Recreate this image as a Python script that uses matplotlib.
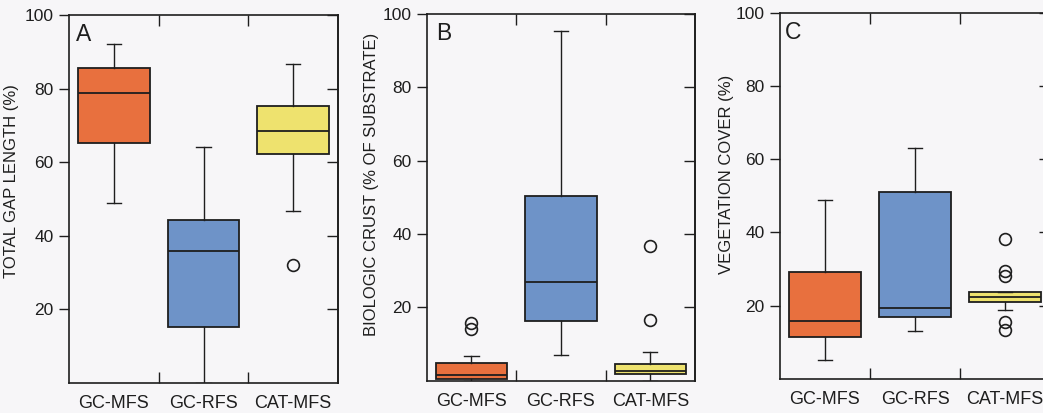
import matplotlib
matplotlib.use("Agg")
import matplotlib.pyplot as plt

plt.rcParams['font.family'] = ['Liberation Sans', 'DejaVu Sans']

categories = ['GC-MFS', 'GC-RFS', 'CAT-MFS']
yticks = [20, 40, 60, 80, 100]

# Panel A: total gap length (%)
gap_whislo = [49.0, 0.0, 46.8]
gap_q1 = [65.1, 15.3, 62.2]
gap_med = [78.7, 35.9, 68.5]
gap_q3 = [85.5, 44.3, 75.4]
gap_whishi = [92.2, 64.1, 86.8]
gap_fliers = [[], [], [32.1]]

# Panel B: biologic crust (% of substrate)
crust_whislo = [0.0, 7.0, 0.0]
crust_q1 = [0.3, 16.2, 1.7]
crust_med = [1.6, 26.8, 2.5]
crust_q3 = [4.9, 50.4, 4.6]
crust_whishi = [6.6, 95.4, 7.9]
crust_fliers = [[14.0, 15.6], [], [16.5, 36.8]]

# Panel C: vegetation cover (%)
veg_whislo = [5.2, 13.1, 18.8]
veg_q1 = [11.6, 16.9, 20.9]
veg_med = [15.7, 19.3, 22.4]
veg_q3 = [29.3, 51.0, 23.8]
veg_whishi = [48.9, 63.1, 23.8]
veg_fliers = [[], [], [13.4, 15.5, 28.2, 29.5, 38.3]]

box_colors = ['#e8703e', '#6e93c8', '#eee26e']
bg = '#f7f6f8'
ink = '#1e1e1e'

panels = [
    dict(letter='A', ylabel='TOTAL GAP LENGTH (%)',
         data=(gap_whislo, gap_q1, gap_med, gap_q3, gap_whishi, gap_fliers),
         rect=[69/1043, 30/413, 269/1043, 368/413], lab_x=19, lab_y=181,
         letter_dx=7),
    dict(letter='B', ylabel='BIOLOGIC CRUST (% OF SUBSTRATE)',
         data=(crust_whislo, crust_q1, crust_med, crust_q3, crust_whishi, crust_fliers),
         rect=[426.7/1043, 32.5/413, 268.3/1043, 366.5/413], lab_x=379, lab_y=184,
         letter_dx=9),
    dict(letter='C', ylabel='VEGETATION COVER (%)',
         data=(veg_whislo, veg_q1, veg_med, veg_q3, veg_whishi, veg_fliers),
         rect=[780/1043, 34/413, 270/1043, 366.3/413], lab_x=734, lab_y=174,
         letter_dx=5),
]

fig = plt.figure(figsize=(10.43, 4.13), dpi=100, facecolor=bg)

for p in panels:
    ax = fig.add_axes(p['rect'])
    ax.set_facecolor(bg)
    wlo, q1, med, q3, whi, fl = p['data']
    stats = []
    for i, c in enumerate(categories):
        stats.append(dict(label=c, whislo=wlo[i], q1=q1[i], med=med[i],
                          q3=q3[i], whishi=whi[i], fliers=fl[i]))
    bp = ax.bxp(stats, positions=[1, 2, 3], widths=0.8, patch_artist=True,
                capwidths=0.16, showfliers=True,
                boxprops=dict(edgecolor=ink, linewidth=1.3),
                medianprops=dict(color=ink, linewidth=1.3),
                whiskerprops=dict(color=ink, linewidth=1.0),
                capprops=dict(color=ink, linewidth=1.0),
                flierprops=dict(marker='o', markersize=8.5, markerfacecolor='none',
                                markeredgecolor=ink, markeredgewidth=1.2))
    for patch, col in zip(bp['boxes'], box_colors):
        patch.set_facecolor(col)

    ax.set_xlim(0.5, 3.5)
    ax.set_ylim(0, 100)
    ax.set_yticks(yticks)
    ax.set_xticks([1, 2, 3], categories)
    ax.set_xticks([1.5, 2.5], minor=True)
    ax.tick_params(axis='x', which='major', length=0, pad=9, labelsize=13,
                   labelcolor=ink)
    ax.tick_params(axis='x', which='minor', direction='in', length=8, width=1.0,
                   top=True, bottom=True, color=ink)
    ax.tick_params(axis='y', which='major', direction='out', length=7, width=1.0,
                   pad=4, labelsize=12.5, labelcolor=ink, color=ink)
    sec = ax.secondary_yaxis('right')
    sec.set_yticks(yticks)
    sec.tick_params(axis='y', direction='in', length=8, width=1.0,
                    labelright=False, color=ink)
    sec.spines['right'].set_linewidth(1.2)
    sec.spines['right'].set_color(ink)
    for s in ax.spines.values():
        s.set_linewidth(1.2)
        s.set_color(ink)

    ax.set_ylabel(p['ylabel'], fontsize=12, color=ink)
    x0 = p['rect'][0] * 1043
    y0 = p['rect'][1] * 413
    w = p['rect'][2] * 1043
    h = p['rect'][3] * 413
    ax.yaxis.set_label_coords((p['lab_x'] - x0) / w, ((413 - p['lab_y']) - y0) / h)

    ax.text(p['letter_dx'] / w, 1 - 8 / h, p['letter'], transform=ax.transAxes,
            ha='left', va='top', fontsize=16.5, color=ink)

fig.savefig('out.png', dpi=100, facecolor=bg)
